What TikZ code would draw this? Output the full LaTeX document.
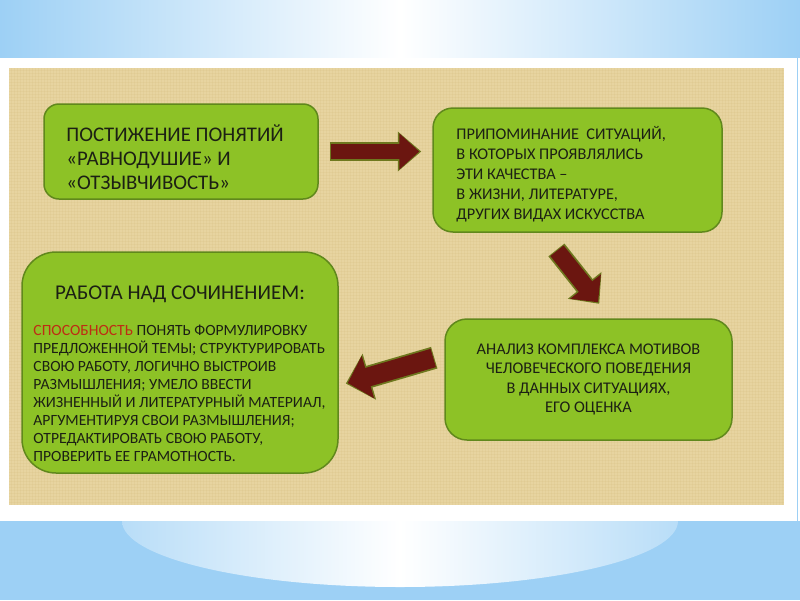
\documentclass[tikz,border=0pt]{standalone}
\usepackage{fontspec}
\setmainfont{Carlito}
\usetikzlibrary{arrows.meta,positioning,calc}
\definecolor{skyband}{RGB}{157,208,245}
\definecolor{paper}{RGB}{231,212,160}
\definecolor{paperdark}{RGB}{214,190,130}
\definecolor{leaf}{RGB}{141,194,38}
\definecolor{leafedge}{RGB}{96,136,28}
\definecolor{maroon}{RGB}{107,22,16}
\definecolor{olivegl}{RGB}{110,120,30}
\definecolor{ink}{RGB}{28,32,20}
\definecolor{inkred}{RGB}{190,45,20}
\tikzset{%
  % Specifications for style of nodes:
       greenbox/.style = {rectangle, rounded corners=#1, draw=leafedge,
                          line width=1.5pt, fill=leaf, inner sep=0pt},
       greenbox/.default = 16pt,
        boxtext/.style = {inner sep=0pt, text=ink, align=left},
  % fat arrows: shaft width, extra head width, extra head length
       fatarrow/.style n args = {3}{draw=maroon, line width=#1,
                          -{Triangle[width=#2 1, length=#3 1]},
                          preaction={draw=olivegl, line width=#1+3.5pt,
                          shorten >=-2pt, shorten <=-1pt,
                          -{Triangle[width=#2 1, length=#3 1]}}},
}
\begin{document}
\begin{tikzpicture}[x=1pt, y=-1pt]
  \useasboundingbox (0,0) rectangle (800,600);
  % background
  \fill[white] (0,0) rectangle (800,600);
  \shade[left color=skyband, right color=skyband, middle color=white] (0,0) rectangle (800,57);
  \fill[skyband] (0,521) rectangle (800,600);
  \begin{scope}
    \clip (400,521) ellipse [x radius=278, y radius=66];
    \shade[left color=skyband!72, right color=skyband!72, middle color=white] (122,521) rectangle (678,600);
  \end{scope}
  \draw[skyband, line width=1pt] (797.5,57) -- (797.5,521);
  \fill[paper] (9,68) rectangle (784,505);
  \foreach \x in {11,14,...,782}
    \draw[paperdark, line width=0.5pt, opacity=0.22] (\x,68) -- (\x,505);
  \foreach \y in {70,73,...,503}
    \draw[paperdark, line width=0.5pt, opacity=0.22] (9,\y) -- (784,\y);

  % Specification of nodes (position, etc.)
  \node (box1) [greenbox=15pt, minimum width=274pt, minimum height=95pt] at (181,151.5) {};
  \node (box2) [greenbox=20pt, minimum width=289pt, minimum height=124pt] at (577.5,170) {};
  \node (box3) [greenbox=34pt, minimum width=316pt, minimum height=221pt] at (180,362.5) {};
  \node (box4) [greenbox=22pt, minimum width=287pt, minimum height=121pt, text=ink, align=center,
                font=\fontsize{16.3}{19.5}\selectfont] at (588.5,379.5)
    {АНАЛИЗ КОМПЛЕКСА МОТИВОВ\\ЧЕЛОВЕЧЕСКОГО ПОВЕДЕНИЯ\\В ДАННЫХ СИТУАЦИЯХ,\\ЕГО ОЦЕНКА};

  \node (box1txt) [boxtext, right=23pt of box1.west, yshift=-5.5pt,
                   font=\fontsize{20.8}{24}\selectfont]
    {ПОСТИЖЕНИЕ ПОНЯТИЙ\\«РАВНОДУШИЕ» И\\«ОТЗЫВЧИВОСТЬ»};
  \node (box2txt) [boxtext, right=24pt of box2.west, yshift=-4.5pt,
                   font=\fontsize{16.3}{20}\selectfont]
    {ПРИПОМИНАНИЕ\ \ СИТУАЦИЙ,\\В КОТОРЫХ ПРОЯВЛЯЛИСЬ\\ЭТИ КАЧЕСТВА –\\В ЖИЗНИ, ЛИТЕРАТУРЕ,\\ДРУГИХ ВИДАХ ИСКУССТВА};
  \node (box3head) [boxtext, font=\fontsize{21}{24}\selectfont] at ($(box3.north)+(0,43)$)
    {РАБОТА НАД СОЧИНЕНИЕМ:};
  \node (box3txt) [boxtext, right=12pt of box3.west, yshift=-30.5pt,
                   font=\fontsize{15.6}{18}\selectfont]
    {\textcolor{inkred}{СПОСОБНОСТЬ} ПОНЯТЬ ФОРМУЛИРОВКУ\\ПРЕДЛОЖЕННОЙ ТЕМЫ; СТРУКТУРИРОВАТЬ\\СВОЮ РАБОТУ, ЛОГИЧНО ВЫСТРОИВ\\РАЗМЫШЛЕНИЯ; УМЕЛО ВВЕСТИ\\ЖИЗНЕННЫЙ И ЛИТЕРАТУРНЫЙ МАТЕРИАЛ,\\АРГУМЕНТИРУЯ СВОИ РАЗМЫШЛЕНИЯ;\\ОТРЕДАКТИРОВАТЬ СВОЮ РАБОТУ,\\ПРОВЕРИТЬ ЕЕ ГРАМОТНОСТЬ.};

  % arrows between the boxes
  \coordinate (a1tail) at ($(box1.east)+(12,0)$);
  \coordinate (a1head) at ($(box2.west |- a1tail)+(-13,0)$);
  \coordinate (a2tail) at ($(box2.south)+(-20.5,18)$);
  \coordinate (a2head) at ($(box4.north)+(9.5,-16)$);
  \coordinate (a3tail) at ($(box4.west)+(-11,-21.5)$);
  \coordinate (a3head) at ($(box3.east)+(9,20.5)$);

  \draw[fatarrow={15pt}{20pt}{5pt}] (a1tail) -- (a1head);
  \draw[fatarrow={17pt}{21pt}{3pt}] (a2tail) -- (a2head);
  \draw[fatarrow={19pt}{24pt}{2pt}] (a3tail) -- (a3head);

  \end{tikzpicture}
\end{document}
